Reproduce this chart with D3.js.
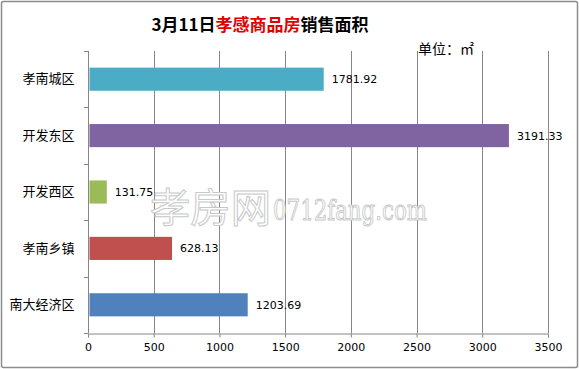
<!DOCTYPE html>
<html><head><meta charset="utf-8">
<script src="https://cdn.jsdelivr.net/npm/d3@7"></script>
<style>body{margin:0;background:#fff}svg{display:block}</style>
</head><body><svg id="c" width="579" height="369"></svg>
<script>
const categories = ["孝南城区","开发东区","开发西区","孝南乡镇","南大经济区"];
const values = [1781.92, 3191.33, 131.75, 628.13, 1203.69];
const colors = ["#4BACC6","#8064A2","#9BBB59","#C0504D","#4F81BD"];
const xTicks = [0,500,1000,1500,2000,2500,3000,3500];

const svg = d3.select("#c");
const font = "'Noto Sans CJK SC','Microsoft YaHei',sans-serif";
svg.append("rect").attr("x",1.5).attr("y",1.5).attr("width",576).attr("height",366)
  .attr("fill","#fff").attr("stroke","#8c8c8c").attr("stroke-width",1.5).attr("rx",2);

const L=88, R=548, T=51, B=333;
const x = d3.scaleLinear().domain([0,3500]).range([L,R]);
const y = d3.scaleBand().domain(categories).range([T,B]).paddingInner(0.59).paddingOuter(0.295);
const yb = d3.scaleBand().domain(categories).range([T,B]);

// gridlines
svg.append("g").selectAll("line").data(xTicks.slice(1)).join("line")
  .attr("x1",d=>Math.round(x(d))+0.5).attr("x2",d=>Math.round(x(d))+0.5)
  .attr("y1",T).attr("y2",B).attr("stroke","#868686").attr("stroke-width",1);

// watermark
svg.append("text").attr("x",150).attr("y",222)
  .attr("fill","#fff").attr("stroke","#c8c8c8").attr("stroke-width",1)
  .attr("font-family",font).attr("font-size",40).attr("textLength",121).attr("lengthAdjust","spacingAndGlyphs")
  .text("孝房网");
svg.append("text").attr("x",273).attr("y",220)
  .attr("fill","#fff").attr("stroke","#c8c8c8").attr("stroke-width",1)
  .attr("font-family","'DejaVu Serif',serif").attr("font-size",27)
  .attr("textLength",154).attr("lengthAdjust","spacingAndGlyphs")
  .text("0712fang.com");

// bars (Excel draws bars offset slightly from the axis line)
const bars = svg.append("g").attr("transform","translate(1.5,0)");
bars.selectAll("rect").data(categories).join("rect")
  .attr("x",x(0)).attr("y",d=>y(d)).attr("width",(d,i)=>x(values[i])-x(0))
  .attr("height",y.bandwidth()).attr("fill",(d,i)=>colors[i]);

// value labels
bars.selectAll("text").data(categories).join("text")
  .attr("x",(d,i)=>x(values[i])+8).attr("y",d=>y(d)+y.bandwidth()/2+4)
  .attr("font-family","'DejaVu Sans',sans-serif").attr("font-size",11).attr("fill","#000")
  .text((d,i)=>values[i].toFixed(2));

// x axis
const xa = svg.append("g").attr("transform",`translate(0,${B+0.5})`)
  .call(d3.axisBottom(x).tickValues(xTicks).tickSize(4).tickPadding(6).tickFormat(d3.format("d")));
xa.select(".domain").attr("stroke","#868686");
xa.selectAll(".tick line").attr("stroke","#868686");
xa.selectAll("text").attr("font-family","'DejaVu Sans',sans-serif").attr("font-size",11).attr("fill","#000");

// y axis
const ya = svg.append("g").attr("transform",`translate(${L+0.5},0)`)
  .call(d3.axisLeft(y).tickSize(0).tickPadding(14));
ya.select(".domain").attr("stroke","#868686").attr("d",`M0,${T}V${B}`);
ya.selectAll("text").attr("font-family",font).attr("font-size",13).attr("fill","#000");
svg.append("g").selectAll("line").data(categories).join("line")
  .attr("x1",L-4).attr("x2",L).attr("y1",d=>Math.round(yb(d)+yb.bandwidth())+0.5)
  .attr("y2",d=>Math.round(yb(d)+yb.bandwidth())+0.5).attr("stroke","#868686");
svg.append("line").attr("x1",L-4).attr("x2",L).attr("y1",T+0.5).attr("y2",T+0.5).attr("stroke","#868686");

// title
const t = svg.append("text").attr("x",260).attr("y",31).attr("text-anchor","middle")
  .attr("font-family",font).attr("font-weight","bold").attr("font-size",17);
t.append("tspan").attr("fill","#000").text("3月11日");
t.append("tspan").attr("fill","#E00000").text("孝感商品房");
t.append("tspan").attr("fill","#000").text("销售面积");

svg.append("text").attr("x",418).attr("y",54).attr("font-family",font).attr("font-size",14)
  .attr("fill","#000").text("单位：㎡");
</script></body></html>
